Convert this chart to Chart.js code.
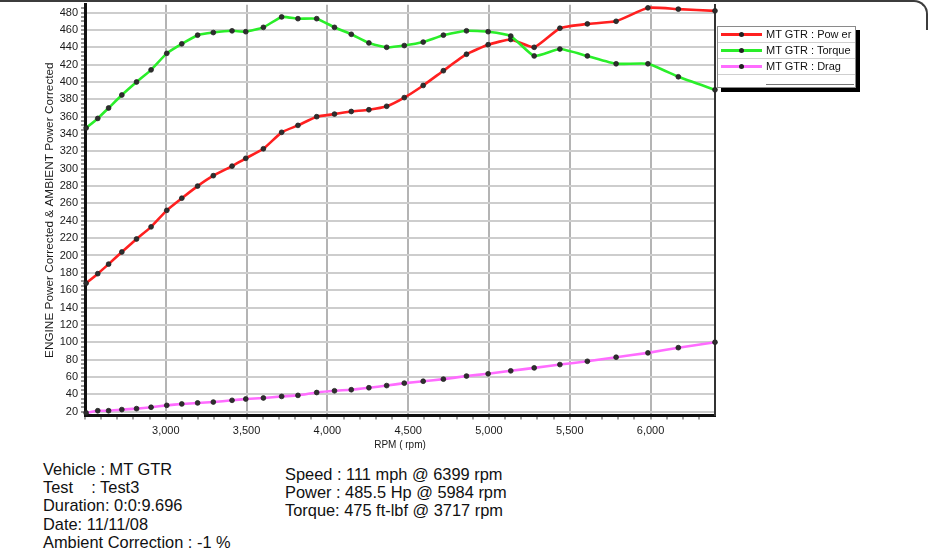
<!DOCTYPE html>
<html>
<head>
<meta charset="utf-8">
<script src="https://cdn.jsdelivr.net/npm/chart.js@4"></script>
<style>
  body { margin: 0; background: #fff; font-family: "Liberation Sans", Arial, sans-serif; }
  #wrap { position: relative; width: 935px; height: 548px; overflow: hidden; }
  #frame { position: absolute; left: 0; top: 0; width: 928px; height: 30px; border-top: 2.5px solid #3c3c3c; border-right: 2px solid #3c3c3c; border-top-right-radius: 14px; box-sizing: border-box; }
  #dyno { position: absolute; left: 0; top: 0; }
  #legend { position: absolute; left: 717px; top: 26px; width: 139px; height: 62px; background: #fff; border: 1px solid #8a8a8a; box-shadow: 4px 4px 0 #000; box-sizing: border-box; }
  #legend .row { height: 15px; border-bottom: 1px solid #cfcfcf; position: relative; font-size: 11px; color: #111; line-height: 15px; white-space: pre; }
  #legend .sw { position: absolute; left: 3px; top: 6px; width: 41px; height: 3px; }
  #legend .dot { position: absolute; left: 18px; top: -1px; width: 5px; height: 5px; border-radius: 50%; background: #222; }
  #legend .txt { position: absolute; left: 48px; top: 0; }
  #legend .foot { position: absolute; left: 48px; right: 1px; bottom: 2px; border-top: 1.5px solid #777; }
  .info { position: absolute; font-size: 16.4px; line-height: 18.2px; color: #111; white-space: pre; }
</style>
</head>
<body>
<div id="wrap">
  <canvas id="dyno" width="935" height="460"></canvas>
  <div id="frame"></div>
  <div id="legend"></div>
  <div class="info" style="left:43px; top:460px;">Vehicle : MT GTR
Test    : Test3
Duration: 0:0:9.696
Date: 11/11/08
Ambient Correction : -1 %</div>
  <div class="info" style="left:285px; top:465px;">Speed : 111 mph @ 6399 rpm
Power : 485.5 Hp @ 5984 rpm
Torque: 475 ft-lbf @ 3717 rpm</div>
</div>
<script>
// rpm of each logged sample (shared by all three traces)
const rpm = [2507, 2579, 2646, 2728, 2819, 2909, 3006, 3099, 3197, 3294, 3410, 3495, 3604, 3717, 3818, 3934,
  4044, 4148, 4257, 4367, 4476, 4593, 4718, 4861, 4995, 5135, 5280, 5439, 5609, 5787, 5984, 6172, 6399];
const power = [168, 179, 190, 204, 219, 233, 252, 266, 280, 292, 303, 312, 323, 342, 350, 360,
  363, 366, 368, 372, 382, 396, 413, 432, 443, 449, 440, 462, 467, 470, 485.5, 484, 482];
const torque = [347, 358, 370, 385, 400, 414, 433, 444, 454, 457, 459, 458, 463, 475, 473, 473,
  463, 455, 445, 440, 442, 446, 454, 459, 458, 453, 430, 438, 430, 421, 421, 406, 391];
const drag = [18.5, 21, 21, 22.3, 23.4, 25, 27.2, 28.8, 30, 31, 33, 34.5, 35.7, 37.5, 38.7, 42,
  44, 45.2, 47.5, 50, 52.8, 55, 57.4, 61, 63.6, 67, 70.4, 74.2, 78, 82.7, 87.7, 93.7, 100];
const seriesNames = ["MT GTR : Pow er", "MT GTR : Torque", "MT GTR : Drag"];
const seriesColors = ["#ff2020", "#2aee2a", "#ff6cff"];

const FONT = "'Liberation Sans', Arial, sans-serif";
const H = 460;

// evenly spaced tick values between a and b
const tickRange = (a, b, step) => {
  const out = [];
  for (let v = a; v <= b; v += step) out.push({ value: v });
  return out;
};

const toPoints = (vals) => rpm.map((x, i) => ({ x: x, y: vals[i] }));
const makeSet = (i, vals) => ({
  label: seriesNames[i],
  data: toPoints(vals),
  borderColor: seriesColors[i],
  backgroundColor: seriesColors[i],
  borderWidth: 2.6,
  tension: 0.15,
  pointRadius: 2.4,
  pointBackgroundColor: "#2e2e2e",
  pointBorderColor: "#222",
  pointBorderWidth: 0.8,
  clip: false,
});

const chart = new Chart(document.getElementById("dyno"), {
  type: "line",
  data: {
    datasets: [makeSet(2, drag), makeSet(1, torque), makeSet(0, power)],
  },
  options: {
    responsive: false,
    animation: false,
    layout: { padding: { top: 1.2, left: 0, right: 220, bottom: 0 } },
    plugins: { legend: { display: false }, tooltip: { enabled: false } },
    scales: {
      x: {
        type: "linear",
        min: 2500,
        max: 6399,
        ticks: {
          autoSkip: false,
          maxRotation: 0,
          padding: 5,
          color: "#1a1a1a",
          font: { family: FONT, size: 11 },
          callback: (v) => (v % 500 === 0 && v > 2500 ? v.toLocaleString("en-US") : ""),
        },
        afterBuildTicks: (axis) => {
          axis.ticks = tickRange(2500, 6300, 100);
        },
        afterFit: (axis) => { axis.height = H - 415.5; axis.paddingLeft = 0; axis.paddingRight = 0; },
        grid: {
          color: (ctx) => (ctx.tick && ctx.tick.value % 500 === 0 && ctx.tick.value > 2500 ? "#b4b4b4" : "rgba(0,0,0,0)"),
          lineWidth: 2,
          tickColor: "#444",
          tickLength: 4,
          tickWidth: 1,
        },
        border: { color: "#111", width: 3 },
        title: {
          display: true,
          text: "RPM ( rpm)",
          color: "#1a1a1a",
          font: { family: FONT, size: 10 },
          padding: { top: 0, bottom: 9 },
        },
      },
      y: {
        min: 15.5,
        max: 489,
        ticks: {
          autoSkip: false,
          padding: 3,
          color: "#1a1a1a",
          font: { family: FONT, size: 11 },
          callback: (v) => (v % 20 === 0 ? v : ""),
        },
        afterBuildTicks: (axis) => {
          axis.ticks = tickRange(20, 485, 5);
        },
        afterFit: (axis) => { axis.width = 85; axis.paddingTop = 0; axis.paddingBottom = 0; },
        grid: {
          color: (ctx) => (ctx.tick && ctx.tick.value % 20 === 0 ? "#cdcdcd" : "rgba(0,0,0,0)"),
          lineWidth: 2,
          tickColor: "#333",
          tickLength: 4,
          tickWidth: 1,
        },
        border: { color: "#111", width: 3 },
        title: {
          display: true,
          text: "ENGINE Power Corrected & AMBIENT Power Corrected",
          color: "#1a1a1a",
          font: { family: FONT, size: 11.8 },
          padding: { top: 43, bottom: 0 },
        },
      },
      // right-hand frame of the plot
      yRight: {
        position: "right",
        min: 0,
        max: 1,
        ticks: { display: false },
        grid: { drawOnChartArea: false, drawTicks: false },
        border: { color: "#333", width: 2 },
        afterFit: (axis) => { axis.width = 0; },
      },
    },
  },
});

// legend box built from the chart's datasets (power, torque, drag order)
const legendBox = document.getElementById("legend");
chart.data.datasets.slice().reverse().forEach((ds) => {
  const row = document.createElement("div");
  row.className = "row";
  row.innerHTML = `<span class="sw" style="background:${ds.borderColor}"><span class="dot"></span></span><span class="txt">${ds.label}</span>`;
  legendBox.appendChild(row);
});
const foot = document.createElement("div");
foot.className = "foot";
legendBox.appendChild(foot);
</script>
</body>
</html>
